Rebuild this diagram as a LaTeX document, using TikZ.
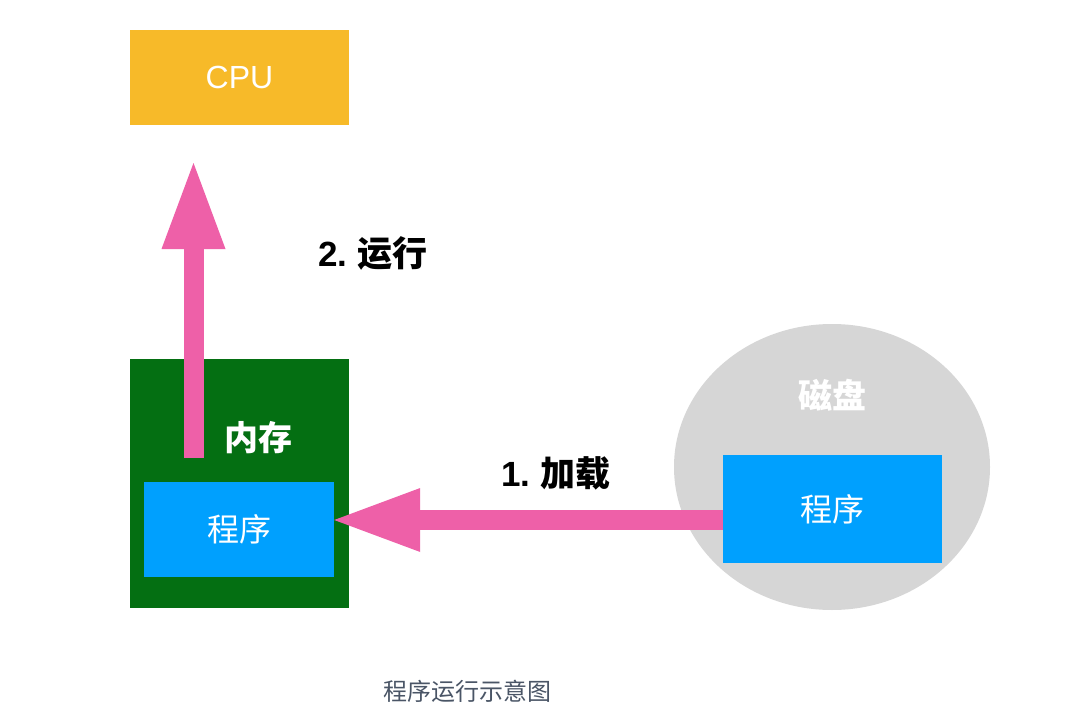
\documentclass[tikz,border=0pt]{standalone}
\usepackage{fontspec}
\setmainfont{Noto Sans CJK SC}
\newfontfamily\cjk{Noto Sans CJK SC}
\newfontfamily\latin{Liberation Sans}
\usetikzlibrary{arrows.meta,shapes.geometric}
\definecolor{cpuyellow}{HTML}{F7BA29}
\definecolor{memgreen}{HTML}{046F12}
\definecolor{progblue}{HTML}{00A0FE}
\definecolor{arrowpink}{HTML}{EE60A8}
\definecolor{diskgray}{HTML}{D6D6D6}
\definecolor{captiongray}{HTML}{4A5566}
\tikzset{
  box/.style={rectangle, inner sep=0pt, text=white},
  bigarrow/.style={draw=arrowpink, line width=20pt, line cap=butt,
    -{Triangle[length=86pt, width=64pt, line width=0pt, fill=arrowpink]}},
  whitelabel/.style={text=white, font=\cjk\fontsize{34}{40}\selectfont\bfseries, inner sep=0pt},
  proglabel/.style={font=\cjk\fontsize{32}{38}\selectfont},
  steplabel/.style={text=black, font=\cjk\fontsize{35}{42}\selectfont\bfseries, inner sep=0pt},
}
\begin{document}
\begin{tikzpicture}[x=1pt, y=-1pt]
\useasboundingbox[fill=white] (0,0) rectangle (1080,725);
% CPU
\node[box, fill=cpuyellow, minimum width=219pt, minimum height=95pt,
      font=\latin\fontsize{32}{38}\selectfont] (cpu) at (239.5,77.5) {CPU};
% memory
\node[box, fill=memgreen, minimum width=219pt, minimum height=249pt] (mem) at (239.5,483.5) {};
\node[whitelabel] (memlabel) at (258,438) {内存};
\node[box, fill=progblue, minimum width=190pt, minimum height=95pt, proglabel] (mprog) at (239,529.5) {程序};
% disk
\node[ellipse, fill=diskgray, inner sep=0pt, minimum width=316pt, minimum height=286pt] (disk) at (832,467) {};
\node[whitelabel] (disklabel) at (832,395) {磁盘};
\node[box, fill=progblue, minimum width=219pt, minimum height=108pt, proglabel] (dprog) at (832.5,509) {程序};
% arrows
\coordinate (upstart) at (193.5,458);
\coordinate (uptip) at (193.5,163);
\coordinate (loadstart) at ([yshift=-11pt]dprog.west);
\coordinate (loadtip) at ([yshift=9.5pt]mprog.east);
\draw[bigarrow] (upstart) -- (uptip);
\draw[bigarrow] (loadstart) -- (loadtip);
% labels
\node[steplabel] (runlabel) at (373,253) {{\latin 2.} 运行};
\node[steplabel] (loadlabel) at (556,473) {{\latin 1.} 加载};
\node[text=captiongray, font=\cjk\fontsize{24}{28}\selectfont, inner sep=0pt] (caption) at (467,691) {程序运行示意图};
\end{tikzpicture}
\end{document}
